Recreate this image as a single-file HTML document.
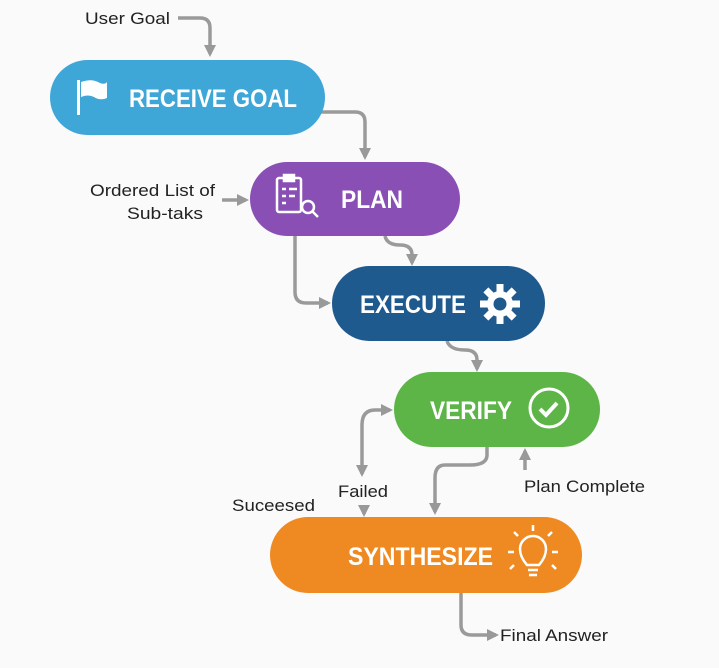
<!DOCTYPE html>
<html><head><meta charset="utf-8"><style>
body{margin:0;background:#fafafa;width:719px;height:663px;overflow:hidden;font-family:"Liberation Sans",sans-serif;}
.t{font-family:"Liberation Sans",sans-serif;}
</style></head><body>
<svg width="719" height="663" viewBox="0 0 719 663" xmlns="http://www.w3.org/2000/svg">
<defs>
<marker id="b" markerWidth="12" markerHeight="12" refX="9" refY="6" orient="auto-start-reverse" markerUnits="userSpaceOnUse"><path d="M0,0 L12,6 L0,12 z" fill="#999"/></marker></defs>
<g fill="none" stroke="#9a9a9a" stroke-width="3.5" marker-end="url(#b)">
<path d="M178,18 H200 Q210,18 210,28 V54"/>
<path d="M320,112 H355 Q365,112 365,122 V157"/>
<path d="M222,200 H246"/>
<path d="M295,236 V292 Q295,303 306,303 H328"/>
<path d="M385,236 Q387,245 400,245 Q412,245 412,255 V263"/>
<path d="M447,341 Q450,350 465,350 Q477,350 477,360 V369"/>
<path d="M362,474 V425 Q362,410 375,410 H390" marker-start="url(#b)"/>
<path d="M487,447 V455 Q487,465 470,465 H445 Q435,465 435,478 V512"/>
<path d="M364,505 V514"/>
<path d="M525,470 V451"/>
<path d="M461,593 V625 Q461,635 472,635 H496"/>
</g>
<rect x="50" y="60" width="275" height="75" rx="37.5" fill="#3fa7d8"/>
<rect x="250" y="162" width="210" height="74" rx="37" fill="#8a4fb5"/>
<rect x="332" y="266" width="213" height="75" rx="37.5" fill="#1f5a8f"/>
<rect x="394" y="372" width="206" height="75" rx="37.5" fill="#5db548"/>
<rect x="270" y="517" width="312" height="76" rx="38" fill="#ef8a22"/>
<g class="t" font-size="17" fill="#222" lengthAdjust="spacingAndGlyphs">
<text x="85" y="24" textLength="85" lengthAdjust="spacingAndGlyphs">User Goal</text>
<text x="90" y="196" textLength="125" lengthAdjust="spacingAndGlyphs">Ordered List of</text>
<text x="127" y="219" textLength="76" lengthAdjust="spacingAndGlyphs">Sub-taks</text>
<text x="338" y="497" textLength="50" lengthAdjust="spacingAndGlyphs">Failed</text>
<text x="232" y="511" textLength="83" lengthAdjust="spacingAndGlyphs">Suceesed</text>
<text x="524" y="492" textLength="121" lengthAdjust="spacingAndGlyphs">Plan Complete</text>
<text x="500" y="641" textLength="108" lengthAdjust="spacingAndGlyphs">Final Answer</text>
</g>
<g class="t" font-size="25" font-weight="bold" fill="#fff">
<text x="129" y="107" textLength="168" lengthAdjust="spacingAndGlyphs">RECEIVE GOAL</text>
<text x="341" y="208" textLength="62" lengthAdjust="spacingAndGlyphs">PLAN</text>
<text x="360" y="313" textLength="106" lengthAdjust="spacingAndGlyphs">EXECUTE</text>
<text x="430" y="419" textLength="82" lengthAdjust="spacingAndGlyphs">VERIFY</text>
<text x="348" y="565" textLength="145" lengthAdjust="spacingAndGlyphs">SYNTHESIZE</text>
</g>
<g fill="#fff"><rect x="77" y="80" width="3" height="35"/><path d="M81,82 Q92,78 100,83 Q105,85 107,82 V98 Q100,101 94,97 Q88,94 81,97 z"/></g>
<g fill="none" stroke="#fff" stroke-width="2.5"><rect x="277" y="178" width="24" height="34" rx="2"/><rect x="284" y="175" width="10" height="6" fill="#fff"/><path d="M282,189h4M289,189h8M282,196h4M289,196h6M282,203h4"/><circle cx="308" cy="207" r="6"/><path d="M312,211l6,6"/></g>
<g transform="translate(500,304)"><g fill="#fff"><circle r="13"/><g id="t"><rect x="-3.5" y="-20" width="7" height="9"/></g><use href="#t" transform="rotate(45)"/><use href="#t" transform="rotate(90)"/><use href="#t" transform="rotate(135)"/><use href="#t" transform="rotate(180)"/><use href="#t" transform="rotate(225)"/><use href="#t" transform="rotate(270)"/><use href="#t" transform="rotate(315)"/></g><circle r="6.5" fill="#1f5a8f"/></g>
<circle cx="549" cy="408" r="19" fill="none" stroke="#fff" stroke-width="3"/><path d="M540,409l6,6l11,-12" fill="none" stroke="#fff" stroke-width="4"/>
<g fill="none" stroke="#fff" stroke-width="2.5"><path d="M527,565 Q520,557 520,549 A13,13 0 0 1 546,549 Q546,557 539,565 z"/><path d="M528,570h10M529,575h8"/><path d="M533,531v-6M518,536l-4,-4M548,536l4,-4M508,552h6M552,552h6M514,565l-4,4M552,565l4,4"/></g>
</svg>
</body></html>
